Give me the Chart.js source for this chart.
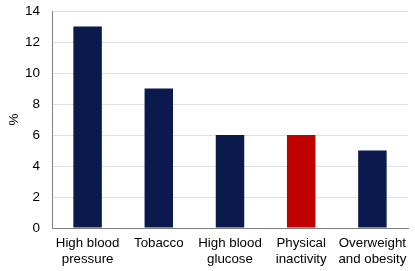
<!DOCTYPE html>
<html>
<head>
<meta charset="utf-8">
<script src="https://cdn.jsdelivr.net/npm/chart.js@4"></script>
<style>
  html, body { margin: 0; padding: 0; background: #fff; }
  #wrap { width: 415px; height: 271px; }
</style>
</head>
<body>
<div id="wrap"><canvas id="chart"></canvas></div>
<script>
const categories = [
    ['High blood', 'pressure'],
    'Tobacco',
    ['High blood', 'glucose'],
    ['Physical', 'inactivity'],
    ['Overweight', 'and obesity']
];
const values = [13, 9, 6, 6, 5];
const barColors = ['#0b1a4d', '#0b1a4d', '#0b1a4d', '#c00000', '#0b1a4d'];

Chart.defaults.font.family = '"Liberation Sans", Arial, sans-serif';
Chart.defaults.font.size = 13;
Chart.defaults.color = '#000';

new Chart(document.getElementById('chart'), {
    type: 'bar',
    data: {
        labels: categories,
        datasets: [{
            data: values,
            backgroundColor: barColors,
            categoryPercentage: 1,
            barPercentage: 0.4
        }]
    },
    options: {
        responsive: true,
        maintainAspectRatio: false,
        animation: false,
        layout: { padding: { top: 11, right: 7, left: 5, bottom: 0 } },
        plugins: {
            legend: { display: false },
            tooltip: { enabled: false }
        },
        scales: {
            x: {
                grid: { display: false, drawTicks: false },
                border: { color: '#7f7f7f' },
                ticks: { padding: 7, maxRotation: 0, autoSkip: false, font: { size: 13.3 } },
                afterFit: (s) => { s.height = 43; }
            },
            y: {
                min: 0,
                max: 14,
                ticks: { stepSize: 2, padding: 12, font: { size: 13.5 } },
                grid: { color: '#e0e0e0', drawTicks: false },
                border: { color: '#7f7f7f' },
                title: { display: true, text: '%', font: { size: 13.5 }, padding: { top: 1, bottom: 1 } },
                afterFit: (s) => { s.width = 47; s.paddingTop = 0; }
            }
        }
    }
});
</script>
</body>
</html>
